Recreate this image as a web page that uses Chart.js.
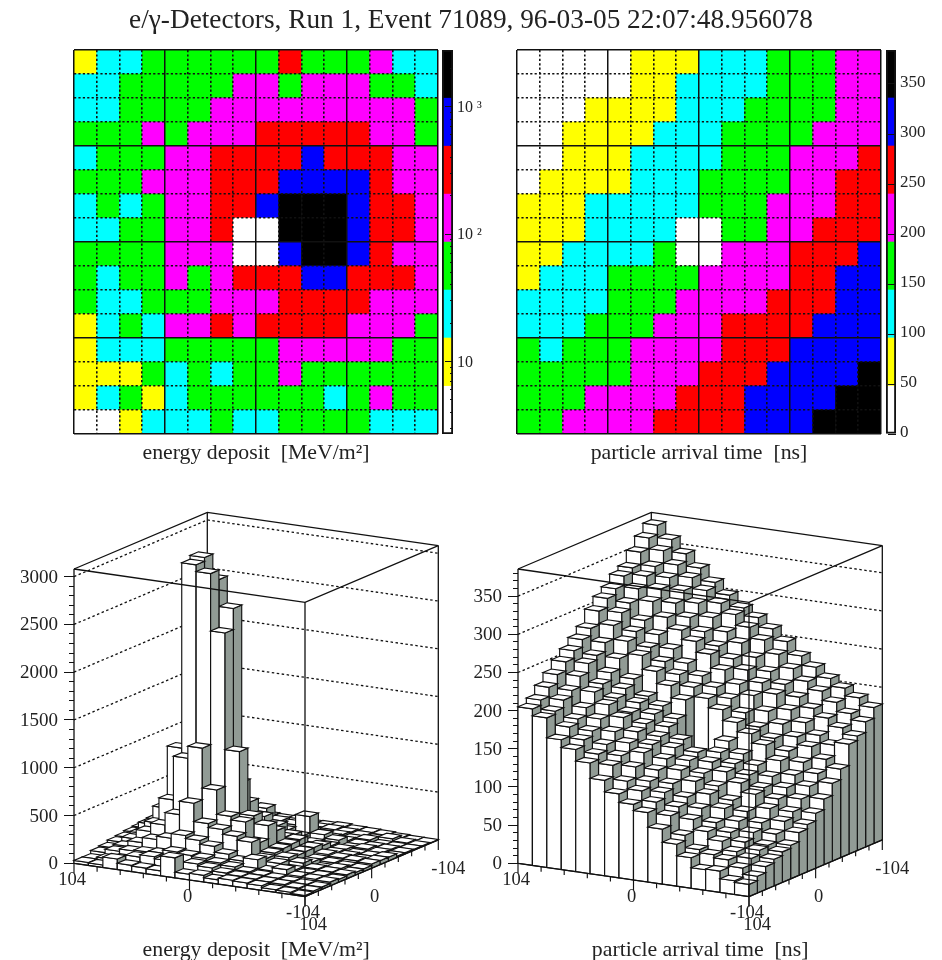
<!DOCTYPE html>
<html>
<head>
<meta charset="utf-8">
<script src="https://cdn.jsdelivr.net/npm/chart.js@4/dist/chart.umd.js"></script>
<style>
html,body{margin:0;padding:0;background:#fff;width:942px;height:960px;overflow:hidden}
canvas{position:absolute;filter:blur(0.45px)}
#title{position:absolute;left:0;top:4px;width:942px;text-align:center;font:27.3px "Liberation Serif",serif;color:#222;filter:blur(0.3px);white-space:nowrap}
</style>
</head>
<body>
<div id="title">e/γ-Detectors, Run 1, Event 71089, 96-03-05 22:07:48.956078</div>
<canvas id="heatE" width="440" height="440" style="left:0;top:40px"></canvas>
<canvas id="barE" width="70" height="440" style="left:432px;top:40px"></canvas>
<canvas id="heatT" width="440" height="440" style="left:443px;top:40px"></canvas>
<canvas id="barT" width="66" height="440" style="left:876px;top:40px"></canvas>
<canvas id="legoE" width="480" height="463" style="left:0;top:500px"></canvas>
<canvas id="legoT" width="480" height="463" style="left:444px;top:500px"></canvas>
<script>
// ---------- data ----------
const energyTitle = 'energy deposit  [MeV/m²]';
const timeTitle = 'particle arrival time  [ns]';
// rows run top to bottom of the maps, columns left to right
const energyDeposit = [
 [12,24,28,48,55,62,45,70,60,209,52,58,66,110,26,30],
 [22,30,44,50,58,66,78,110,130,80,120,140,115,70,50,28],
 [25,32,40,52,60,75,105,125,150,160,175,140,130,120,95,60],
 [40,48,55,105,70,165,130,180,240,280,310,260,225,170,110,72],
 [30,45,50,65,110,140,290,330,380,420,611,470,340,250,150,95],
 [42,50,60,100,135,160,250,443,480,734,1150,1023,565,300,170,105],
 [28,48,32,70,120,170,390,470,1120,2340,2940,3010,1070,420,230,120],
 [30,35,50,62,125,180,300,0,0,2560,2840,3050,800,400,240,130],
 [45,55,62,78,130,190,195,0,0,700,2200,2500,650,330,190,115],
 [42,30,48,60,110,85,180,260,330,460,600,540,380,290,215,120],
 [40,28,32,55,70,80,130,170,200,280,350,300,230,160,130,100],
 [14,28,45,34,95,130,299,190,210,320,280,240,180,140,110,75],
 [13,25,30,34,50,62,70,75,80,100,125,140,130,95,70,55],
 [10,12,14,45,30,50,34,60,70,90,75,70,60,55,50,48],
 [9,20,42,14,28,40,50,48,55,60,48,34,52,88,45,42],
 [5,6,12,20,25,28,38,30,26,40,38,45,40,30,28,22]
];
const arrivalTime = [
 [16,18,28,27,40,55,72,91,99,110,125,145,160,170,196,205],
 [22,30,38,42,46,62,85,100,112,122,140,152,168,182,200,212],
 [30,38,44,55,65,78,92,108,120,136,148,160,175,188,210,224],
 [35,44,52,62,72,88,100,115,130,150,160,172,186,198,218,236],
 [40,46,60,72,86,102,116,128,140,156,170,186,200,214,232,248],
 [44,56,68,80,92,108,122,136,150,162,176,188,204,220,244,258],
 [56,68,82,98,110,122,132,142,156,170,184,196,212,230,250,268],
 [62,76,90,102,116,128,140,0,0,176,190,200,220,244,262,278],
 [72,88,100,112,124,136,150,0,0,196,212,228,246,262,280,296],
 [86,100,112,128,146,158,170,184,196,208,222,236,252,270,292,308],
 [102,112,124,136,150,162,178,194,206,218,232,248,264,280,300,316],
 [116,126,140,150,164,178,196,208,224,242,256,268,282,300,314,328],
 [144,140,150,164,178,196,208,222,234,248,264,280,296,312,326,334],
 [150,158,168,178,190,204,218,234,250,262,278,294,308,322,334,350],
 [164,172,184,196,206,220,236,252,266,280,292,306,320,334,350,364],
 [178,188,198,208,220,232,248,262,274,284,298,312,328,344,360,376]
];
const palette = ['#ffffff','#ffff00','#00ffff','#00ff00','#ff00ff','#ff0000','#0000ff','#000000'];
const energyBandEdges = [2.7,6.4,15.3,36.4,86.6,206,490,1166,2786];
const timeBandEdges = [0,48,96,144,192,240,288,336,384];
const energyBarMajor = [10,100,1000];
const energyBarMinor = [3,4,5,6,7,8,9,20,30,40,50,60,70,80,90,200,300,400,500,600,700,800,900,2000];
const energyBarLabels = {10:'10',100:'10 ²',1000:'10 ³'};
const timeBarMajor = [0,50,100,150,200,250,300,350];
const energyZMajor = [0,500,1000,1500,2000,2500,3000];
const energyZMinor = [100,200,300,400,600,700,800,900,1100,1200,1300,1400,1600,1700,1800,1900,2100,2200,2300,2400,2600,2700,2800,2900];
const timeZMajor = [0,50,100,150,200,250,300,350];
const timeZMinor = [10,20,30,40,60,70,80,90,110,120,130,140,160,170,180,190,210,220,230,240,260,270,280,290,310,320,330,340,360,370,380];
const energyZTop = 3080;
const timeZTop = 385.6;
const baseMajor = [104,0,-104];
const baseMinor = [83.2,62.4,41.6,20.8,-20.8,-41.6,-62.4,-83.2];

// ---------- shared ----------
Chart.defaults.font.family = '"Liberation Serif",serif';
Chart.defaults.color = '#222';
Chart.defaults.animation = false;
Chart.defaults.events = [];
Chart.defaults.plugins.legend.display = false;
Chart.defaults.plugins.tooltip.enabled = false;
const BLACK = '#111';
const SIDE_GRAY = '#919b95';
const N = 16;
const TITLE_SIZE = 21.8;
const fitWidth = w => s => { s.width = w; s.paddingTop = 0; s.paddingBottom = 0; };

function bandColor(v, edges){
  for(let i = 0; i < palette.length; i++){ if(v < edges[i+1]) return palette[i]; }
  return palette[palette.length-1];
}

// ---------- 2D map: stacked cells, one dataset per row ----------
function makeHeat(id, rows, edges, title){
  const datasets = [];
  for(let r = N-1; r >= 0; r--){
    datasets.push({data: rows[r].map(()=>1), backgroundColor: rows[r].map(v=>bandColor(v,edges)),
      borderWidth:0, barPercentage:1, categoryPercentage:1});
  }
  const solid = ctx => ctx.index === undefined || ctx.index % 4 === 0;
  const gridOpts = {z:1, color:BLACK, drawTicks:false,
    lineWidth: ctx => solid(ctx) ? 1.5 : 1.6};
  const borderOpts = {display:false, dash: ctx => solid(ctx) ? [] : [2.2,2.2]};
  new Chart(document.getElementById(id), {
    type:'bar',
    data:{labels: rows[0].map((_,i)=>String(i+1)), datasets},
    options:{responsive:false, layout:{padding:{top:10,right:2}},
      scales:{
        x:{stacked:true, grid:gridOpts, border:borderOpts, ticks:{display:false},
           title:{display:true,text:title,font:{size:TITLE_SIZE},color:'#222',padding:{top:0,bottom:13.5}},
           afterFit:s=>{s.height=46;}},
        y:{stacked:true, min:0, max:N, grid:gridOpts, border:borderOpts,
           ticks:{display:false,stepSize:1}, afterFit:fitWidth(74)}
      }}
  });
}

// ---------- palette bar ----------
function makeBar(id, edges, type, major, minor, fmt, width, labelSize, labelOffset){
  const datasets = [{data:[[edges[0],edges[edges.length-1]]], backgroundColor:'rgba(0,0,0,0)',
     borderColor:BLACK, borderWidth:1.5, borderSkipped:false, grouped:false, barPercentage:1, categoryPercentage:1}];
  palette.forEach((c,i)=>datasets.push({data:[[edges[i],edges[i+1]]], backgroundColor:c, borderWidth:0,
     grouped:false, barPercentage:1, categoryPercentage:1}));
  const scales = {
    x:{display:false},
    y:{type, position:'right', weight:1, min:edges[0], max:edges[edges.length-1],
       afterBuildTicks:s=>{s.ticks = major.map(v=>({value:v}));},
       afterFit:fitWidth(width),
       grid:{drawOnChartArea:false, z:1, tickLength:-8, tickColor:BLACK, lineWidth:1},
       border:{display:false},
       ticks:{padding:12, autoSkip:false, callback:fmt, labelOffset, font:{size:labelSize}, color:'#222', maxRotation:0}}
  };
  if(minor.length){
    scales.y2 = {type, position:'right', weight:-1, min:edges[0], max:edges[edges.length-1],
       afterBuildTicks:s=>{s.ticks = minor.map(v=>({value:v}));},
       afterFit:fitWidth(0),
       grid:{drawOnChartArea:false, z:1, tickLength:-3, tickColor:BLACK, lineWidth:1},
       border:{display:false}, ticks:{display:false, autoSkip:false}};
  }
  new Chart(document.getElementById(id), {
    type:'bar',
    data:{labels:[''], datasets},
    options:{responsive:false, layout:{padding:{top:10,bottom:46,left:10}}, scales}
  });
}

// ---------- 3D lego view ----------
function makeLego(id, rows, title, zTop, zMajor, zMinor){
  const boxW1 = 231, boxW2 = 133.3, drop1 = 33.3, rise2 = 56.7, boxH = 294.3;
  const ppz = boxH / zTop;
  const P = (c,r,z) => ({x: boxW1*(1-c/N) + boxW2*r/N, y: z - (drop1*(1-c/N) - rise2*r/N)/ppz});
  const line = (pts, o={}) => Object.assign({data:pts, borderColor:BLACK, borderWidth:1.15, fill:false,
      pointRadius:0, tension:0, clip:false, borderJoinStyle:'miter'}, o);
  const toC = t => (t+104)/208*N;   // value on the left-to-front edge
  const toR = t => (104-t)/208*N;   // value on the front-to-right edge
  const front = [], back = [], bars = [];

  // box edges in front of the bars
  front.push(line([P(N,0,zTop),P(0,0,zTop),P(0,N,zTop)],{borderWidth:1.3}));
  front.push(line([P(0,0,zTop),P(0,0,0)],{borderWidth:1.3}));
  front.push(line([P(N,0,0),P(0,0,0),P(0,N,0)],{borderWidth:1.3}));
  const tk = px => px/ppz;
  baseMajor.forEach(t=>{
    front.push(line([P(toC(t),0,0),P(toC(t),0,-tk(10))]));
    front.push(line([P(0,toR(t),0),P(0,toR(t),-tk(10))]));
  });
  baseMinor.forEach(t=>{
    front.push(line([P(toC(t),0,0),P(toC(t),0,-tk(5))]));
    front.push(line([P(0,toR(t),0),P(0,toR(t),-tk(5))]));
  });

  // columns, nearest first because dataset 0 is painted last
  for(let r = 0; r < N; r++){
    for(let c = 0; c < N; c++){
      const z = rows[r][c];
      bars.push(line([P(c,r,z),P(c+1,r,z),P(c+1,r+1,z),P(c,r+1,z),P(c,r,z)],{fill:'shape',backgroundColor:'#fff'}));
      bars.push(line([P(c,r,0),P(c,r+1,0),P(c,r+1,z),P(c,r,z),P(c,r,0)],{fill:'shape',backgroundColor:SIDE_GRAY}));
      bars.push(line([P(c,r,0),P(c+1,r,0),P(c+1,r,z),P(c,r,z),P(c,r,0)],{fill:'shape',backgroundColor:'#fff'}));
    }
  }

  // back walls
  back.push(line([P(N,0,zTop),P(N,N,zTop),P(0,N,zTop)],{borderWidth:1.3}));
  back.push(line([P(N,N,zTop),P(N,N,0)],{borderWidth:1.3}));
  back.push(line([P(N,0,zTop),P(N,0,0)],{borderWidth:1.3}));
  back.push(line([P(0,N,zTop),P(0,N,0)],{borderWidth:1.3}));
  back.push(line([P(N,0,0),P(N,N,0),P(0,N,0)],{borderWidth:1}));
  zMajor.filter(z=>z>0).forEach(z=>{
    back.push(line([P(N,0,z),P(N,N,z),P(0,N,z)],{borderDash:[2.5,2.5],borderWidth:1.3}));
  });

  const bottomOf = 915, topOf = 505, zero = 863.3;
  const yMin = (zero-bottomOf)/ppz, yMax = (zero-topOf)/ppz;

  const baseLabels = {
    id:'baseLabels',
    afterDraw(chart){
      const g = chart.ctx, sx = chart.scales.x, sy = chart.scales.y;
      g.save(); g.font = '18.5px "Liberation Serif",serif'; g.fillStyle = '#222';
      g.textAlign = 'center'; g.textBaseline = 'middle';
      baseMajor.forEach(t=>{
        const a = P(toC(t),0,0);
        g.fillText(String(t), sx.getPixelForValue(a.x)-2, sy.getPixelForValue(a.y)+17);
      });
      const dx = [8,3,10];
      baseMajor.forEach((t,i)=>{
        const a = P(0,toR(t),0);
        g.fillText(String(t), sx.getPixelForValue(a.x)+dx[i], sy.getPixelForValue(a.y)+29);
      });
      g.restore();
    }
  };

  new Chart(document.getElementById(id), {
    type:'line',
    data:{datasets: front.concat(bars, back)},
    plugins:[baseLabels],
    options:{responsive:false, layout:{padding:{top:5,right:41.7}},
      plugins:{filler:{propagate:false}},
      scales:{
        x:{type:'linear', min:0, max:boxW1+boxW2, grid:{display:false}, border:{display:false},
           ticks:{display:false},
           title:{display:true,text:title,font:{size:TITLE_SIZE},color:'#222',padding:{top:0,bottom:0}},
           afterFit:s=>{s.height=48;}},
        y:{type:'linear', position:'left', weight:1, min:yMin, max:yMax,
           afterBuildTicks:s=>{s.ticks = zMajor.map(v=>({value:v}));},
           afterFit:fitWidth(74),
           grid:{drawOnChartArea:false, tickLength:10, tickColor:BLACK},
           border:{display:false},
           ticks:{padding:6, autoSkip:false, callback:v=>String(v), font:{size:19}, color:'#222', maxRotation:0, labelOffset:1}},
        yMinor:{type:'linear', position:'left', weight:-1, min:yMin, max:yMax,
           afterBuildTicks:s=>{s.ticks = zMinor.map(v=>({value:v}));},
           afterFit:fitWidth(0),
           grid:{drawOnChartArea:false, tickLength:5, tickColor:BLACK},
           border:{display:false}, ticks:{display:false, autoSkip:false}}
      }}
  });
}

makeHeat('heatE', energyDeposit, energyBandEdges, energyTitle);
makeBar('barE', energyBandEdges, 'logarithmic', energyBarMajor, energyBarMinor, v=>energyBarLabels[v]||'', 49, 16, 1);
makeHeat('heatT', arrivalTime, timeBandEdges, timeTitle);
makeBar('barT', timeBandEdges, 'linear', timeBarMajor, [], v=>String(v), 46, 17, -1);
makeLego('legoE', energyDeposit, energyTitle, energyZTop, energyZMajor, energyZMinor);
makeLego('legoT', arrivalTime, timeTitle, timeZTop, timeZMajor, timeZMinor);
</script>
</body>
</html>
